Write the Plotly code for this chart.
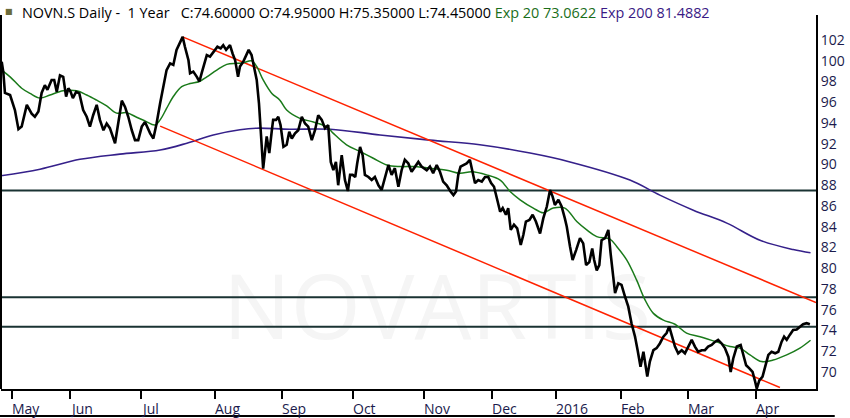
import plotly.graph_objects as go

# trading-day index (0 = first trading day of May 2015) and daily close
close_day = [-3.2, -2.7, -2.2, -0.6, 0.9, 2.0, 3.0, 4.6, 6.1, 7.1, 8.2, 9.2, 10.2, 11.0, 12.3, 13.1, 13.9, 14.9,
             15.9, 16.8, 17.5, 18.2, 18.9, 19.9, 20.9, 22.1, 23.2, 24.2, 25.2, 26.3, 27.3, 28.4, 29.4, 30.4, 32.0,
             33.0, 34.1, 35.1, 36.1, 37.2, 38.2, 39.2, 40.3, 41.3, 42.9, 43.9, 44.9, 46.0, 47.0, 48.0, 49.1, 50.1,
             51.1, 52.0, 53.0, 53.7, 54.8, 55.3, 56.3, 57.4, 58.2, 58.9, 59.7, 60.5, 61.5, 62.5, 63.8, 64.8, 65.6,
             66.5, 67.7, 68.5, 69.3, 70.2, 70.8, 71.8, 72.7, 73.5, 74.4, 75.2, 76.0, 76.7, 77.3, 78.0, 79.1, 79.9,
             80.7, 81.1, 82.0, 82.7, 83.4, 84.3, 85.3, 86.1, 86.9, 87.9, 88.9, 90.0, 91.0, 92.0, 93.1, 94.1, 95.1,
             96.2, 97.2, 98.2, 99.0, 99.8, 100.6, 101.3, 102.4, 103.4, 104.3, 105.0, 105.8, 106.6, 107.2, 108.1,
             108.9, 109.6, 110.7, 111.7, 112.7, 113.8, 114.8, 115.8, 116.9, 117.9, 118.9, 120.0, 121.0, 122.0,
             123.1, 124.1, 125.2, 126.2, 127.2, 128.8, 129.8, 130.8, 131.9, 132.9, 133.9, 135.0, 136.2, 137.1,
             137.9, 138.6, 139.3, 140.2, 141.2, 142.2, 143.1, 143.8, 144.8, 145.9, 146.9, 147.9, 148.8, 149.7,
             150.7, 151.6, 152.4, 153.4, 154.1, 154.9, 155.9, 156.9, 158.0, 158.8, 159.6, 160.7, 161.7, 162.7,
             164.0, 165.0, 166.1, 167.1, 167.9, 168.6, 169.7, 170.7, 171.7, 172.3, 173.3, 174.1, 175.2, 176.4,
             177.4, 178.3, 179.3, 180.2, 180.8, 181.6, 182.4, 183.1, 184.2, 185.2, 185.9, 186.7, 187.3, 188.3,
             189.3, 190.4, 191.4, 192.4, 193.5, 194.3, 195.2, 196.1, 196.6, 197.3, 198.1, 199.2, 200.2, 201.2,
             202.3, 203.3, 204.1, 204.9, 205.9, 206.9, 208.0, 209.0, 210.0, 211.1, 212.1, 213.1, 214.2, 215.2,
             216.2, 217.3, 218.3, 219.3, 220.4, 221.4, 222.5, 223.2, 224.0, 225.1, 226.3, 227.1, 228.0, 229.0,
             230.0, 230.7, 231.3, 232.1, 233.1, 233.9, 234.9, 235.9, 237.0, 238.0, 239.0, 239.8, 240.6, 241.6,
             242.6, 243.7, 244.7, 245.7, 246.8, 247.8]
close = [99.9, 98.9, 96.9, 96.7, 95.25, 93.4, 93.65, 95.75, 94.9, 94.6, 95.1, 96.9, 97.65, 97.2, 98.15, 98.15, 97.0,
         98.6, 98.45, 96.55, 97.35, 97.0, 96.4, 97.0, 96.85, 95.25, 94.6, 93.65, 94.75, 95.75, 94.3, 93.3, 93.95,
         93.5, 92.05, 93.95, 96.15, 95.55, 94.6, 93.3, 92.35, 92.35, 93.65, 94.1, 93.0, 92.5, 93.95, 95.9, 97.65,
         99.1, 99.75, 99.6, 101.05, 101.7, 102.3, 101.35, 100.05, 98.8, 98.95, 98.45, 98.0, 98.8, 99.75, 100.55,
         100.4, 100.85, 101.35, 101.2, 101.5, 101.05, 101.5, 100.7, 100.05, 98.45, 99.45, 99.9, 100.55, 101.05,
         100.55, 99.45, 98.15, 95.9, 93.3, 89.6, 92.7, 91.1, 93.3, 94.3, 94.3, 94.6, 93.8, 91.7, 91.9, 93.15, 92.5,
         93.0, 93.3, 94.6, 93.95, 93.65, 92.35, 93.3, 94.75, 94.3, 93.5, 93.8, 90.25, 89.45, 90.25, 88.0, 90.9,
         88.5, 87.45, 89.0, 89.0, 88.8, 90.1, 91.7, 90.9, 89.0, 88.8, 88.5, 88.8, 88.0, 87.55, 88.8, 89.95, 89.0,
         89.65, 87.85, 89.45, 90.45, 90.1, 89.3, 89.8, 90.25, 89.8, 89.45, 89.8, 89.15, 89.95, 89.3, 88.35, 88.0,
         87.4, 87.05, 87.4, 89.0, 89.8, 89.95, 90.1, 90.45, 89.15, 88.2, 88.5, 88.35, 88.8, 88.8, 88.2, 87.85,
         86.6, 85.45, 85.8, 85.15, 85.8, 83.7, 84.2, 83.85, 82.25, 83.2, 84.5, 84.65, 85.15, 84.5, 83.35, 84.8,
         85.95, 87.55, 86.9, 86.1, 86.6, 85.95, 84.8, 84.0, 82.1, 80.8, 81.75, 82.9, 82.4, 80.3, 80.6, 81.9, 80.8,
         79.8, 80.3, 82.7, 82.9, 83.7, 81.45, 78.85, 77.6, 78.55, 78.4, 77.25, 76.3, 74.7, 73.4, 72.1, 70.5, 71.95,
         71.0, 69.55, 71.0, 72.1, 72.3, 72.75, 73.4, 73.75, 74.4, 73.55, 72.45, 71.8, 72.1, 71.8, 72.45, 73.1,
         72.45, 71.95, 72.1, 72.1, 72.45, 72.6, 72.9, 73.1, 72.75, 72.3, 71.45, 70.0, 71.3, 72.45, 72.6, 71.65,
         70.65, 70.35, 70.0, 69.2, 68.4, 69.2, 69.55, 70.5, 71.65, 71.95, 71.8, 71.95, 72.9, 73.4, 73.1, 73.6,
         74.05, 74.1, 74.4, 74.6, 74.7, 74.6]

# 20-day exponential average (green)
ema20_day = [-3.2, -0.6, 3.0, 5.6, 8.7, 11.8, 15.9, 20.1, 23.2, 26.3, 29.4, 32.5, 35.6, 38.7, 41.3, 44.4, 46.0,
             48.0, 50.1, 52.7, 55.3, 58.2, 60.5, 63.6, 66.7, 69.8, 71.8, 74.4, 76.0, 78.0, 80.7, 83.2, 85.3, 89.4,
             93.6, 97.7, 99.8, 103.9, 108.1, 112.2, 116.4, 120.5, 124.6, 128.3, 135.0, 139.1, 142.8, 147.4, 151.6,
             154.7, 157.8, 161.9, 165.0, 168.1, 171.7, 175.4, 178.5, 181.6, 185.7, 187.8, 190.9, 194.0, 196.6,
             199.2, 202.3, 205.9, 209.5, 213.7, 218.8, 223.0, 226.1, 229.2, 232.8, 236.4, 240.6, 244.7, 248.0]
ema20 = [99.1, 98.45, 97.35, 96.85, 96.4, 96.7, 97.1, 97.1, 96.7, 96.2, 95.65, 94.95, 95.0, 94.55, 94.2, 93.8, 94.3,
         95.4, 96.55, 97.5, 97.8, 98.0, 98.45, 99.1, 99.65, 99.75, 99.8, 100.0, 99.45, 98.15, 96.85, 96.2, 95.25,
         94.45, 94.1, 93.65, 93.0, 91.9, 91.25, 90.6, 89.95, 89.8, 89.8, 89.7, 89.45, 89.15, 89.3, 89.0, 88.5,
         87.4, 86.6, 85.8, 85.35, 85.8, 85.8, 84.5, 83.7, 83.05, 82.8, 82.1, 80.8, 78.85, 76.95, 75.65, 75.0,
         74.6, 73.75, 73.4, 72.9, 72.45, 72.3, 71.65, 71.0, 71.15, 71.65, 72.3, 73.06]

# 200-day exponential average (purple)
ema200_day = [-3.7, 8.7, 21.1, 33.5, 46.0, 54.3, 62.5, 70.8, 76.0, 86.3, 98.8, 114.3, 129.8, 145.3, 160.9,
              173.3, 191.9, 201.2, 211.6, 222.0, 232.3, 242.6, 248.0]
ema200 = [88.9, 89.55, 90.5, 91.0, 91.4, 92.05, 92.85, 93.35, 93.5, 93.4, 93.4, 92.85, 92.35, 91.9, 91.1, 90.25,
          88.5, 87.05, 85.6, 84.35, 82.7, 81.8, 81.49]

# trend channel (red) and horizontal levels
upper_day = [53.0, 249.7]
upper = [102.3, 76.7]
lower_day = [46.0, 238.5]
lower = [93.7, 68.5]
levels = [87.5, 77.2, 74.35]

month_day = [0, 18, 40, 63, 84, 106, 128, 149, 169, 189, 210, 231]
month_text = ['May', 'Jun', 'Jul', 'Aug', 'Sep', 'Oct', 'Nov', 'Dec', '2016', 'Feb', 'Mar', 'Apr']
price_ticks = list(range(70, 104, 2))

FONT = 'Open Sans'
NAVY = '#1b1b4d'

fig = go.Figure()

# faint watermark, kept below the data
fig.add_shape(type='rect', xref='paper', yref='paper', x0=0.23, x1=0.84, y0=0.06, y1=0.36,
              line=dict(width=0), fillcolor='rgba(0,0,0,0)', layer='below',
              label=dict(text='NOVARTIS', textposition='middle center',
                         font=dict(family=FONT, size=90, color='#f5f5f5')))

for lv in levels:
    fig.add_hline(y=lv, line=dict(color='#1a3333', width=2), layer='below')

fig.add_trace(go.Scatter(x=ema200_day, y=ema200, mode='lines', line=dict(color='#35208a', width=1.6, shape='spline')))
fig.add_trace(go.Scatter(x=upper_day, y=upper, mode='lines', line=dict(color='#ff2200', width=1.5)))
fig.add_trace(go.Scatter(x=lower_day, y=lower, mode='lines', line=dict(color='#ff2200', width=1.5)))
fig.add_trace(go.Scatter(x=ema20_day, y=ema20, mode='lines', line=dict(color='#1a7a1a', width=1.5, shape='spline')))
fig.add_trace(go.Scatter(x=close_day, y=close, mode='lines', line=dict(color='black', width=2.6)))

# month labels sit to the right of their tick
for d, t in zip(month_day, month_text):
    fig.add_annotation(x=d, y=0, xref='x', yref='paper', text=t, showarrow=False,
                       xanchor='left', yanchor='middle', xshift=-2, yshift=-19,
                       font=dict(family=FONT, size=14, color=NAVY))

title = ('NOVN.S Daily -\u00a0 1 Year\u00a0\u00a0 C:74.60000 O:74.95000 H:75.35000 L:74.45000 '
         '<span style="color:#1a6e1a">Exp 20 73.0622</span> '
         '<span style="color:#3a1a85">Exp 200 81.4882</span>')
fig.add_annotation(x=0, y=1, xref='paper', yref='paper', text=title, showarrow=False,
                   xanchor='left', yanchor='middle', xshift=19, yshift=3,
                   font=dict(family=FONT, size=14.4, color='black'))
# small legend icon before the title
fig.add_annotation(x=0, y=1, xref='paper', yref='paper', text='\u25a0', showarrow=False,
                   xanchor='left', yanchor='middle', xshift=2, yshift=4,
                   font=dict(family='DejaVu Sans', size=8, color='#6b6b3a'))

# frame lines
fig.add_shape(type='line', xref='paper', yref='paper', x0=0, x1=0, y0=0, y1=1,
              line=dict(color='black', width=2))
fig.add_shape(type='line', xref='paper', yref='paper', x0=-0.002, x1=1.023, y0=-0.072, y1=-0.072,
              line=dict(color='black', width=2))

fig.update_layout(
    width=850, height=418,
    margin=dict(l=1, r=34, t=15, b=29),
    paper_bgcolor='white', plot_bgcolor='white',
    showlegend=False,
    xaxis=dict(range=[-3.42, 249.7], showgrid=False, zeroline=False,
               showline=True, linecolor='black', linewidth=2,
               ticks='outside', ticklen=8, tickwidth=2, tickcolor='black',
               tickvals=month_day, showticklabels=False),
    yaxis=dict(range=[68.36, 104.41], side='right', showgrid=False, zeroline=False,
               showline=True, linecolor='black', linewidth=2, ticks='',
               tickvals=price_ticks, tickfont=dict(family=FONT, size=14, color=NAVY)),
)

# page body has a default 8px margin; drop it so the figure sits at the window corner
fig.write_html("out.html", config={'displayModeBar': False},
               post_script="document.body.style.margin='0px';")
